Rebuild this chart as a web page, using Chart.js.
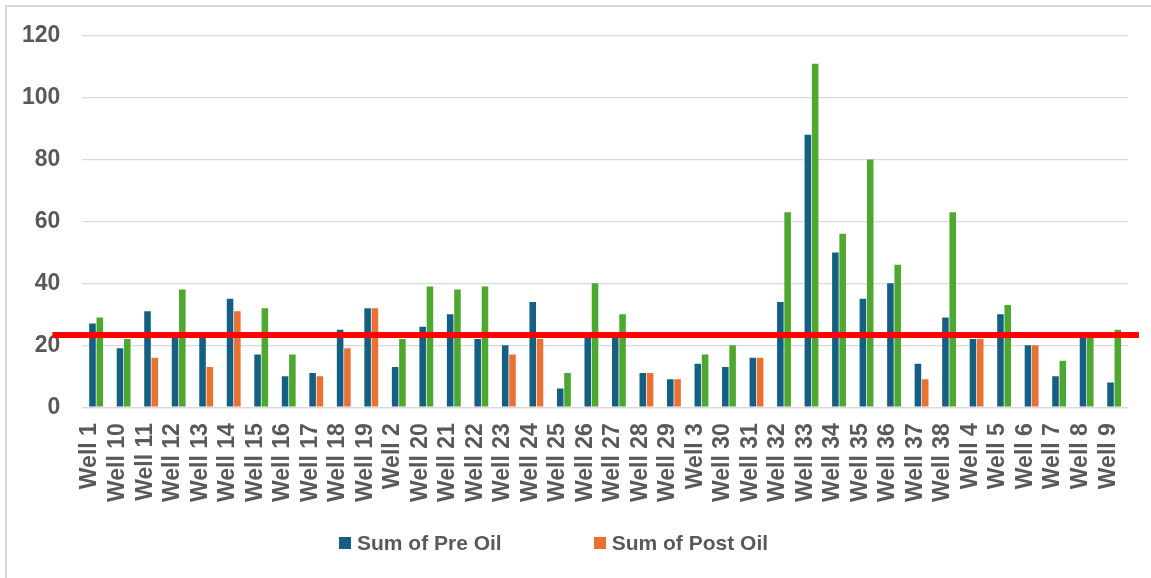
<!DOCTYPE html>
<html>
<head>
<meta charset="utf-8">
<script src="https://cdn.jsdelivr.net/npm/chart.js@4.4.1/dist/chart.umd.min.js"></script>
<style>
    html, body { margin: 0; padding: 0; background: #fff; }
    body { width: 1151px; height: 578px; position: relative; overflow: hidden; font-family: 'Liberation Sans', Arial, sans-serif; }
    .frame { position: absolute; left: 5px; top: 5px; width: 1160px; height: 590px; border: 2px solid #d9d9d9; box-sizing: border-box; }
    .chart-container { position: absolute; left: 0; top: 0; width: 1151px; height: 578px; }
    .legend { position: absolute; top: 531px; left: 339px; display: flex; align-items: center; font-weight: bold; font-size: 21px; color: #595959; }
    .legend .item { display: flex; align-items: center; }
    .legend .swatch { width: 12px; height: 12px; margin-right: 6px; }
</style>
</head>
<body>
<div class="frame"></div>
<div class="chart-container"><canvas id="wellChart" width="1151" height="578"></canvas></div>
<div class="legend">
    <div class="item"><span class="swatch" style="background:#156082"></span>Sum of Pre Oil</div>
    <div class="item" style="margin-left:92px"><span class="swatch" style="background:#E97132"></span>Sum of Post Oil</div>
</div>
<script>
// Categories (Excel sort order)
const wells = ['Well 1', 'Well 10', 'Well 11', 'Well 12', 'Well 13', 'Well 14', 'Well 15', 'Well 16', 'Well 17', 'Well 18', 'Well 19',
    'Well 2', 'Well 20', 'Well 21', 'Well 22', 'Well 23', 'Well 24', 'Well 25', 'Well 26', 'Well 27', 'Well 28', 'Well 29',
    'Well 3', 'Well 30', 'Well 31', 'Well 32', 'Well 33', 'Well 34', 'Well 35', 'Well 36', 'Well 37', 'Well 38',
    'Well 4', 'Well 5', 'Well 6', 'Well 7', 'Well 8', 'Well 9'];

// Sum of Pre Oil
const preOil = [27, 19, 31, 23, 23, 35, 17, 10, 11, 25, 32,
    13, 26, 30, 22, 20, 34, 6, 23, 23, 11, 9,
    14, 13, 16, 34, 88, 50, 35, 40, 14, 29,
    22, 30, 20, 10, 23, 8];

// Sum of Post Oil
const postOil = [29, 22, 16, 38, 13, 31, 32, 17, 10, 19, 32,
    22, 39, 38, 39, 17, 22, 11, 40, 30, 11, 9,
    17, 20, 16, 63, 111, 56, 80, 46, 9, 63,
    22, 33, 20, 15, 24, 25];

// Y axis ticks and reference line
const yTicks = [0, 20, 40, 60, 80, 100, 120];
const refLevel = 23.3;

const PRE_COLOR = '#156082';
const DOWN_COLOR = '#E97132';
const UP_COLOR = '#4EA72E';
const FONT = "'Liberation Sans', Arial, sans-serif";

// Red reference line drawn over the bars
const refLinePlugin = {
    id: 'refLine',
    afterDatasetsDraw(chart) {
        const { ctx, chartArea, scales } = chart;
        const y = scales.y.getPixelForValue(refLevel);
        ctx.save();
        ctx.strokeStyle = '#ff0000';
        ctx.lineWidth = 6;
        ctx.beginPath();
        ctx.moveTo(chartArea.left - 30, y);
        ctx.lineTo(chartArea.right + 11, y);
        ctx.stroke();
        ctx.restore();
    }
};

function renderChart() {
    const ctx = document.getElementById('wellChart').getContext('2d');

    // green when post went up, orange otherwise
    const postColors = postOil.map((v, i) => v > preOil[i] ? UP_COLOR : DOWN_COLOR);

    new Chart(ctx, {
        type: 'bar',
        data: {
            labels: wells,
            datasets: [{
                label: 'Sum of Pre Oil',
                data: preOil,
                backgroundColor: PRE_COLOR,
                barPercentage: 0.9,
                categoryPercentage: 0.53
            }, {
                label: 'Sum of Post Oil',
                data: postOil,
                backgroundColor: postColors,
                barPercentage: 0.9,
                categoryPercentage: 0.53
            }]
        },
        options: {
            responsive: false,
            animation: false,
            layout: {
                padding: { left: 0, right: 10, top: 34, bottom: 60 }
            },
            scales: {
                y: {
                    min: 0,
                    max: 120,
                    afterBuildTicks: (axis) => { axis.ticks = yTicks.map(v => ({ value: v })); },
                    border: { display: false },
                    grid: { color: '#d9d9d9', lineWidth: 1.3, drawTicks: false },
                    ticks: {
                        padding: 22,
                        color: '#595959',
                        font: { family: FONT, size: 23, weight: 'bold' }
                    }
                },
                x: {
                    border: { color: '#d9d9d9', width: 1.3 },
                    grid: { display: false, drawTicks: false },
                    ticks: {
                        padding: 16,
                        minRotation: 90,
                        maxRotation: 90,
                        autoSkip: false,
                        labelOffset: -6,
                        color: '#595959',
                        font: { family: FONT, size: 23, weight: 'bold', lineHeight: 0.9 }
                    }
                }
            },
            plugins: {
                legend: { display: false },
                tooltip: { enabled: false }
            }
        },
        plugins: [refLinePlugin]
    });
}

document.addEventListener('DOMContentLoaded', renderChart);
</script>
</body>
</html>
